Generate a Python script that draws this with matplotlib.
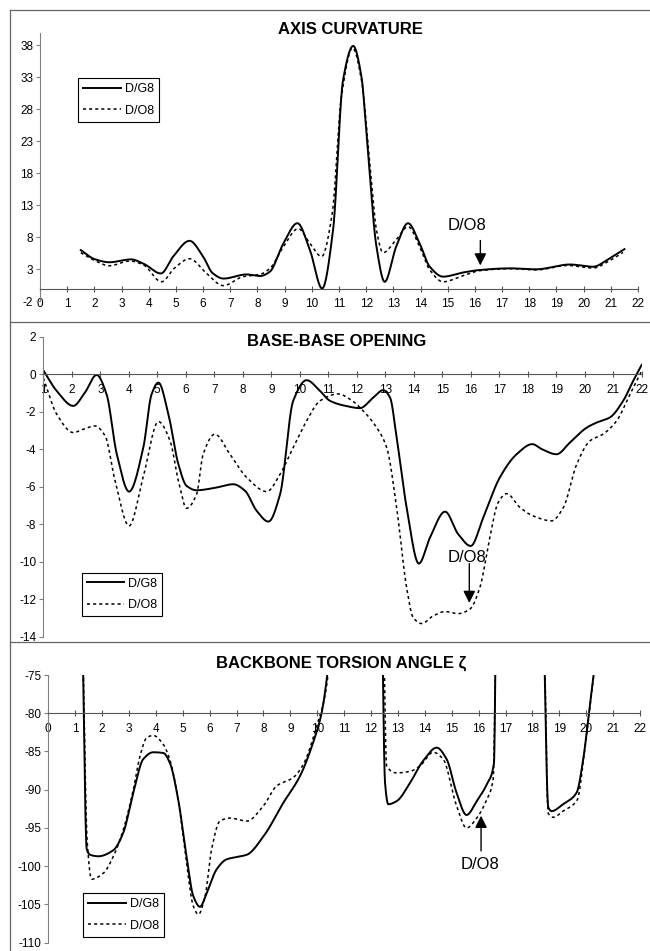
import numpy as np
import matplotlib
matplotlib.use('Agg')
import matplotlib.pyplot as plt
from matplotlib.lines import Line2D

plt.rcParams['font.family'] = 'Liberation Sans'
plt.rcParams['axes.unicode_minus'] = False

# axis curvature along the duplex
curv_x_g8 = [1.5, 2.0, 2.55, 3.35, 3.8, 4.45, 4.9, 5.5, 6.0, 6.35, 6.75, 7.6, 8.1, 8.45, 8.95,
             9.47, 9.93, 10.38, 10.78, 11.15, 11.52, 11.83, 12.0, 12.38, 12.68, 13.1, 13.54, 13.97,
             14.34, 14.83, 15.56, 16.2, 17.3, 18.25, 19.5, 20.35, 20.9, 21.5]
curv_g8 = [6.0, 4.6, 4.1, 4.55, 3.9, 2.35, 5.0, 7.45, 5.0, 2.4, 1.55, 2.2, 1.95, 2.6, 7.0,
           10.2, 6.0, 0.0, 9.1, 32.6, 37.9, 33.0, 24.8, 6.5, 1.05, 6.5, 10.2, 7.0,
           3.4, 1.85, 2.5, 2.9, 3.15, 3.0, 3.75, 3.4, 4.55, 6.15]
curv_x_o8 = [1.5, 2.0, 2.55, 3.3, 3.8, 4.47, 4.95, 5.5, 6.13, 6.74, 7.47, 8.09, 8.46, 8.95, 9.5,
             9.93, 10.36, 10.75, 11.09, 11.5, 11.83, 12.13, 12.38, 12.62, 13.1, 13.54, 13.97,
             14.34, 14.83, 15.56, 16.2, 17.3, 18.25, 19.4, 20.35, 20.9, 21.45]
curv_o8 = [5.6, 4.4, 3.55, 4.3, 3.7, 1.05, 3.2, 4.65, 2.35, 0.45, 1.85, 2.2, 3.15, 6.5, 9.35,
           7.05, 5.0, 11.7, 30.0, 37.6, 32.5, 19.6, 9.1, 5.6, 7.6, 9.65, 6.5,
           2.9, 1.05, 2.0, 2.8, 3.1, 2.9, 3.6, 3.2, 4.2, 5.65]

# base-base opening
open_x_g8 = [1.0, 1.47, 2.05, 2.46, 2.87, 3.22, 3.58, 4.01, 4.51, 4.8, 5.04, 5.39, 5.74, 6.03,
             6.38, 6.96, 7.67, 8.08, 8.49, 8.9, 9.31, 9.77, 10.24, 10.71, 11.06, 11.64, 12.11,
             12.58, 12.93, 13.17, 13.4, 13.75, 14.18, 14.57, 15.1, 15.56, 16.0, 16.44, 17.02,
             17.61, 18.16, 18.5, 19.01, 19.48, 20.07, 20.42, 20.88, 21.35, 21.7, 22.0]
open_g8 = [0.21, -0.89, -1.69, -0.98, -0.04, -1.07, -4.27, -6.26, -3.91, -1.07, -0.45, -2.13,
           -4.8, -5.96, -6.19, -6.08, -5.87, -6.22, -7.29, -7.86, -6.4, -1.42, -0.32, -0.89,
           -1.42, -1.7, -1.81, -1.25, -0.85, -1.25, -3.38, -7.11, -10.1, -8.71, -7.33, -8.53,
           -9.16, -7.65, -5.51, -4.27, -3.73, -4.0, -4.27, -3.65, -2.85, -2.58, -2.31, -1.42,
           -0.36, 0.5]
open_x_o8 = [1.0, 1.47, 2.05, 2.4, 2.81, 3.17, 3.52, 4.01, 4.51, 5.04, 5.45, 5.74, 6.03, 6.38,
             6.61, 7.02, 7.55, 8.14, 8.84, 9.31, 9.77, 10.24, 10.71, 11.35, 11.76, 12.23, 12.7,
             13.05, 13.4, 13.75, 13.98, 14.28, 14.68, 15.1, 15.56, 15.97, 16.32, 16.67, 16.96,
             17.26, 17.73, 18.19, 18.84, 19.25, 19.72, 20.18, 20.64, 21.12, 21.59, 22.0]
open_o8 = [-0.2, -2.13, -3.11, -2.94, -2.76, -3.29, -5.69, -8.09, -5.45, -2.53, -3.56, -5.69,
           -7.15, -6.4, -4.27, -3.2, -4.27, -5.51, -6.26, -5.33, -3.91, -2.49, -1.42, -1.05,
           -1.33, -1.96, -2.85, -3.91, -7.11, -11.38, -12.98, -13.3, -12.89, -12.66, -12.77,
           -12.53, -11.38, -8.71, -6.85, -6.37, -7.11, -7.56, -7.82, -7.11, -4.8, -3.56, -3.2,
           -2.49, -1.07, 0.18]

# backbone torsion zeta; nan splits the pieces that run off the top of the scale
nan = np.nan
zeta_x_g8 = [1.25, 1.43, 1.55, 1.86, 2.42, 2.79, 3.16, 3.53, 3.9, 4.28, 4.52, 4.83, 5.14, 5.39,
             5.64, 5.89, 6.26, 6.63, 7.0, 7.38, 8.0, 8.74, 9.36, 9.85, 10.16, 10.55, nan,
             12.4, 12.52, 12.64, 12.95, 13.45, 13.94, 14.44, 14.81, 15.18, 15.55, 15.93, 16.3,
             16.57, 16.65, nan,
             18.4, 18.59, 18.71, 19.14, 19.64, 19.89, 20.1, 20.45]
zeta_g8 = [-65, -97.8, -98.5, -98.7, -97.9, -95.6, -90.4, -86.0, -85.1, -85.2, -86.5, -91.3,
           -98.7, -103.9, -105.3, -103.5, -100.4, -99.1, -98.8, -98.5, -96.1, -91.7, -88.2,
           -83.8, -80.0, -70, nan,
           -65, -89.1, -91.9, -91.5, -89.1, -86.2, -84.5, -86.0, -90.4, -93.3, -91.5, -89.3,
           -86.5, -65, nan,
           -65, -92.3, -92.8, -91.9, -90.4, -86.0, -80.0, -70.0]
zeta_x_o8 = [1.25, 1.45, 1.61, 2.05, 2.42, 2.79, 3.16, 3.41, 3.66, 3.9, 4.28, 4.52, 4.83, 5.14,
             5.39, 5.58, 5.83, 6.07, 6.38, 6.75, 7.38, 8.0, 8.49, 9.11, 9.48, 9.98, 10.29, 10.5,
             nan,
             12.45, 12.58, 12.95, 13.45, 13.82, 14.31, 14.68, 15.18, 15.55, 15.93, 16.3, 16.54,
             16.66, nan,
             18.42, 18.59, 18.77, 19.14, 19.67, 19.89, 20.1, 20.45]
zeta_o8 = [-65, -97.0, -101.7, -100.9, -98.7, -95.2, -90.0, -85.6, -83.2, -82.9, -84.1, -86.1,
           -91.3, -99.6, -105.2, -106.3, -103.9, -97.8, -94.1, -93.7, -94.1, -92.1, -89.5,
           -88.4, -86.7, -81.7, -77.7, -72, nan,
           -65, -86.9, -87.8, -87.6, -86.9, -85.1, -86.0, -92.1, -95.0, -93.7, -91.3, -88.6,
           -65, nan,
           -65, -93.1, -93.6, -92.8, -91.3, -86.4, -80.3, -70.0]

labels = ['D/G8', 'D/O8']


def pchip(x, y, n=30):
    # monotone cubic Hermite curve through the points
    x = np.asarray(x, float)
    y = np.asarray(y, float)
    h = np.diff(x)
    d = np.diff(y) / h
    m = np.zeros_like(y)
    for k in range(1, len(x) - 1):
        if d[k - 1] * d[k] > 0:
            w1 = 2 * h[k] + h[k - 1]
            w2 = h[k] + 2 * h[k - 1]
            m[k] = (w1 + w2) / (w1 / d[k - 1] + w2 / d[k])
    m[0], m[-1] = d[0], d[-1]
    xs, ys = [], []
    for k in range(len(h)):
        t = np.linspace(0, 1, n, endpoint=(k == len(h) - 1))
        h00 = 2 * t**3 - 3 * t**2 + 1
        h10 = t**3 - 2 * t**2 + t
        h01 = -2 * t**3 + 3 * t**2
        h11 = t**3 - t**2
        xs.append(x[k] + t * h[k])
        ys.append(h00 * y[k] + h10 * h[k] * m[k] + h01 * y[k + 1] + h11 * h[k] * m[k + 1])
    return np.concatenate(xs), np.concatenate(ys)


def smooth(x, y):
    x = np.asarray(x, float)
    y = np.asarray(y, float)
    cuts = np.where(np.isnan(x))[0]
    xs, ys = [], []
    for part in np.split(np.arange(len(x)), cuts):
        part = part[~np.isnan(x[part])]
        sx, sy = pchip(x[part], y[part])
        xs += [sx, [np.nan]]
        ys += [sy, [np.nan]]
    return np.concatenate(xs), np.concatenate(ys)


W, H = 650, 951
fig = plt.figure(figsize=(W / 100, H / 100), dpi=100)


def panel(left, top, right, bottom):
    return fig.add_axes([left / W, 1 - bottom / H, (right - left) / W, (bottom - top) / H])


def setup(ax, xlim, ylim, yticks, cross):
    ax.set_xlim(xlim)
    ax.set_ylim(ylim)
    ax.patch.set_visible(False)
    ax.spines['top'].set_visible(False)
    ax.spines['right'].set_visible(False)
    ax.spines['bottom'].set_position(('data', cross))
    ax.spines['bottom'].set_color('#555555')
    ax.spines['left'].set_color('#808080')
    ax.set_xticks(np.arange(xlim[0], xlim[1] + 1))
    ax.set_yticks(yticks)
    ax.tick_params(axis='x', direction='inout', length=4, pad=5, labelsize=8.5, color='#555555')
    ax.tick_params(axis='y', direction='out', length=3, pad=2, labelsize=8.5, color='#808080')


def draw(ax, xg, yg, xo, yo):
    sx, sy = smooth(xg, yg)
    ax.plot(sx, sy, color='black', lw=1.4)
    sx, sy = smooth(xo, yo)
    ax.plot(sx, sy, color='black', lw=1.1, ls=(0, (2, 2)))


def legend(ax, x0, y0):
    handles = [Line2D([], [], color='black', lw=1.4),
               Line2D([], [], color='black', lw=1.1, ls=(0, (2, 2)))]
    leg = ax.legend(handles, labels, loc='upper left', bbox_to_anchor=(x0 / W, 1 - y0 / H),
                    bbox_transform=fig.transFigure, fontsize=9, frameon=True, fancybox=False,
                    edgecolor='black', framealpha=1, borderaxespad=0, borderpad=0.4,
                    handlelength=3.0, handletextpad=0.3, labelspacing=0.75)
    leg.get_frame().set_linewidth(0.8)


def arrow(ax, tail, tip):
    ax.annotate('', xy=tip, xytext=tail,
                arrowprops=dict(arrowstyle='-|>,head_length=0.6,head_width=0.3', color='black',
                                lw=1, shrinkA=0, shrinkB=0, mutation_scale=12))


# chart borders
for yb in [10, 321.7, 641.7]:
    fig.add_artist(Line2D([9.5 / W, 1], [1 - yb / H] * 2, transform=fig.transFigure,
                          color='#666666', lw=0.9))
fig.add_artist(Line2D([9.5 / W] * 2, [1 - 10 / H, 0], transform=fig.transFigure,
                      color='#666666', lw=0.9))

# axis curvature
ax1 = panel(40, 32.5, 638, 301.3)
setup(ax1, (0, 22), (-2, 40), np.arange(-2, 39, 5), 0)
draw(ax1, curv_x_g8, curv_g8, curv_x_o8, curv_o8)
legend(ax1, 78.3, 78.3)
ax1.text(15.72, 9.9, 'D/O8', fontsize=12, ha='center', va='center')
arrow(ax1, (16.2, 7.5), (16.2, 3.6))
fig.text(350 / W, 1 - 29.3 / H, 'AXIS CURVATURE', fontsize=12, fontweight='bold',
         ha='center', va='center')

# base-base opening
ax2 = panel(43.3, 336.7, 641.7, 636.7)
setup(ax2, (1, 22), (-14, 2), np.arange(-14, 3, 2), 0)
draw(ax2, open_x_g8, open_g8, open_x_o8, open_o8)
legend(ax2, 81.7, 572.7)
ax2.text(15.88, -9.78, 'D/O8', fontsize=12, ha='center', va='center')
arrow(ax2, (15.95, -10.1), (15.95, -12.2))
fig.text(336.6 / W, 1 - 341.7 / H, 'BASE-BASE OPENING', fontsize=12, fontweight='bold',
         ha='center', va='center')

# backbone torsion angle zeta
ax3 = panel(48.3, 675, 640, 942.7)
setup(ax3, (0, 22), (-110, -75), np.arange(-110, -74, 5), -80)
draw(ax3, zeta_x_g8, zeta_g8, zeta_x_o8, zeta_o8)
legend(ax3, 83.3, 893.3)
ax3.text(16.05, -99.8, 'D/O8', fontsize=12, ha='center', va='center')
arrow(ax3, (16.09, -98.0), (16.09, -93.4))
fig.text(341 / W, 1 - 663.3 / H, 'BACKBONE TORSION ANGLE \u03b6', fontsize=12,
         fontweight='bold', ha='center', va='center')

fig.savefig('out.png', dpi=100)
